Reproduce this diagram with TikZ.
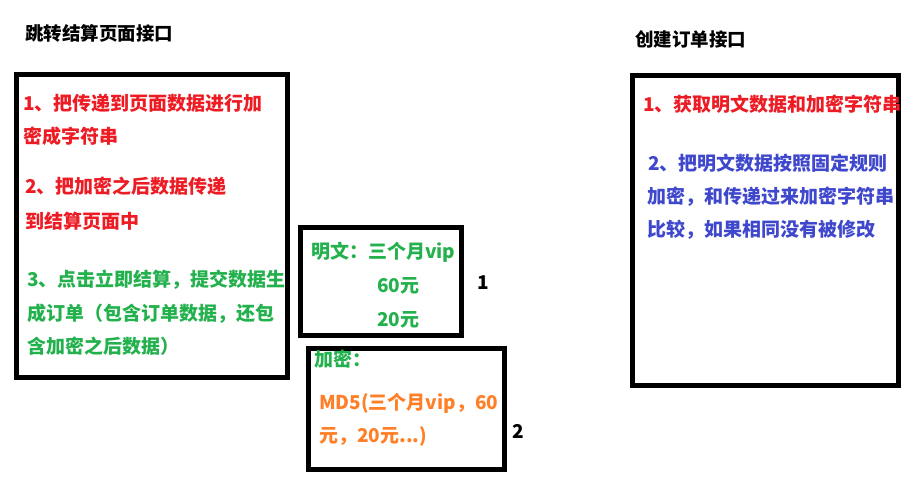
\documentclass[tikz,border=0pt]{standalone}
\usepackage{fontspec}
\setmainfont{Noto Sans CJK SC}
\definecolor{cred}{HTML}{ED1C24}
\definecolor{cgreen}{HTML}{22B14C}
\definecolor{cblue}{HTML}{3F48CC}
\definecolor{corange}{HTML}{FF7F27}
\begin{document}
\begin{tikzpicture}[x=1pt,y=-1pt,
  boxframe/.style={draw=black,line width=5pt},
  txt/.style={anchor=base west,inner sep=0pt,font=\fontsize{19}{19}\selectfont\bfseries},
  ttl/.style={anchor=base west,inner sep=0pt,font=\fontsize{18.5}{18.5}\selectfont\bfseries}]
\useasboundingbox[fill=white] (0,0) rectangle (919,482);
% boxes
\draw[boxframe] (16,74.5) rectangle (287.5,377.5);
\draw[boxframe] (300.5,227.5) rectangle (461.5,335.5);
\draw[boxframe] (308.5,348.5) rectangle (504.5,469.5);
\draw[boxframe] (632.5,75.8) rectangle (898.5,385.5);
% titles
\node[ttl] (t1) at (25,40.5) {跳转结算页面接口};
\node[ttl] (t2) at (635,46.5) {创建订单接口};
% left box
\node[txt,text=cred] (l1) at (23,110.7) {1、把传递到页面数据进行加};
\node[txt,text=cred] (l2) at (23,143.7) {密成字符串};
\node[txt,text=cred] (l3) at (25,193.7) {2、把加密之后数据传递};
\node[txt,text=cred] (l4) at (25,228.5) {到结算页面中};
\node[txt,text=cgreen] (l5) at (27,286.7) {3、点击立即结算，提交数据生};
\node[txt,text=cgreen] (l6) at (27,320.7) {成订单（包含订单数据，还包};
\node[txt,text=cgreen] (l7) at (27,353.7) {含加密之后数据）};
% box 1
\node[txt,text=cgreen] (m1) at (311,258.7) {明文：三个月vip};
\node[txt,text=cgreen] (m2) at (377,292) {60元};
\node[txt,text=cgreen] (m3) at (377,326) {20元};
\node[txt] (n1) at (477,289) {1};
% box 2
\node[txt,text=cgreen] (e1) at (314,366.7) {加密：};
\node[txt,text=corange] (e2) at (319,409) {MD5(三个月vip，60};
\node[txt,text=corange] (e3) at (319,442) {元，20元...)};
\node[txt] (n2) at (512,438) {2};
% right box
\node[txt,text=cred] (r1) at (643,111.7) {1、获取明文数据和加密字符串};
\node[txt,text=cblue] (r2) at (648,170.5) {2、把明文数据按照固定规则};
\node[txt,text=cblue] (r3) at (647,203.7) {加密，和传递过来加密字符串};
\node[txt,text=cblue] (r4) at (647,236.7) {比较，如果相同没有被修改};
\end{tikzpicture}
\end{document}
